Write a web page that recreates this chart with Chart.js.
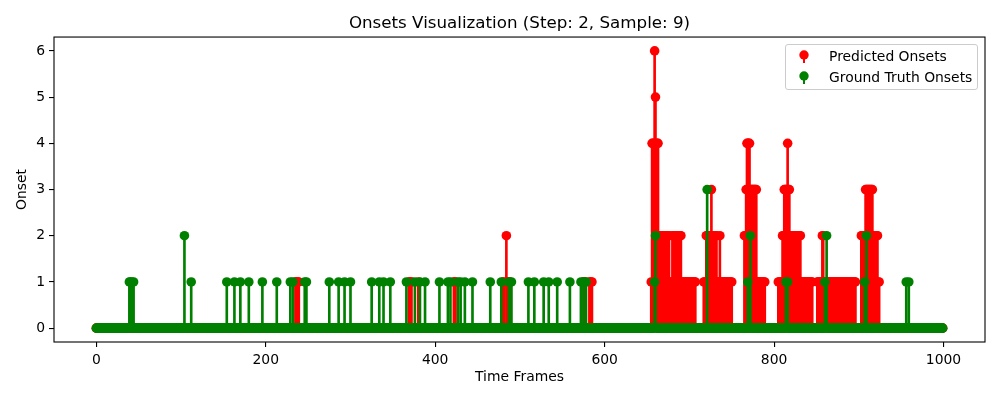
<!DOCTYPE html>
<html>
<head>
<meta charset="utf-8">
<script src="https://cdn.jsdelivr.net/npm/chart.js@4.4.1/dist/chart.umd.min.js"></script>
<style>
html,body{margin:0;padding:0;background:#fff;}
#wrap{position:relative;width:1000px;height:400px;background:#fff;}
#chart{position:absolute;left:0;top:0;}
#legend{position:absolute;left:785px;top:44px;width:191px;height:44px;border:1px solid #cccccc;border-radius:3px;background:rgba(255,255,255,0.8);font-family:'DejaVu Sans',sans-serif;font-size:13.9px;color:#000;}
#legend .row{position:absolute;left:0;width:191px;height:20px;line-height:20px;white-space:nowrap;}
#legend svg{position:absolute;left:12px;top:0;}
#legend span{position:absolute;left:43px;top:0;}
</style>
</head>
<body>
<div id="wrap">
<canvas id="chart" width="1000" height="400"></canvas>
<div id="legend">
  <div class="row" style="top:0.7px"><svg width="12" height="20"><line x1="6" y1="9" x2="6" y2="17" stroke="#ff0000" stroke-width="2"/><circle cx="6" cy="9" r="4.7" fill="#ff0000"/></svg><span>Predicted Onsets</span></div>
  <div class="row" style="top:21.7px"><svg width="12" height="20"><line x1="6" y1="9" x2="6" y2="17" stroke="#008000" stroke-width="2"/><circle cx="6" cy="9" r="4.7" fill="#008000"/></svg><span>Ground Truth Onsets</span></div>
</div>
</div>
<script>
// ---- data ----
const chartTitle = 'Onsets Visualization (Step: 2, Sample: 9)';
const xTickValues = [0, 200, 400, 600, 800, 1000];
const yTickValues = [0, 1, 2, 3, 4, 5, 6];
const frameCount = 1000;

// predicted onsets, sparse part (frames before 650)
const predSparseFrames = [235,236,237,238,239,369,370,371,372,380,422,423,424,480,481,484,485,486,487,488,575,576,577,582,583,584,585];
const predSparseValues = [1,1,1,1,1,1,1,1,1,1,1,1,1,1,1,2,1,1,1,1,1,1,1,1,1,1,1];

// predicted onsets, dense part: one value per frame starting at frame 650
const predDenseStart = 650;
const predDenseValues = [
  0,0,0,0,0,1,4,4,4,6,   // 650
  5,4,4,4,2,2,2,2,2,2,   // 660
  2,2,2,2,2,2,2,1,1,1,   // 670
  2,2,2,2,2,2,2,2,2,2,   // 680
  2,1,1,1,1,1,1,1,1,1,   // 690
  1,1,1,1,1,1,1,1,0,0,   // 700
  0,0,0,0,0,0,0,1,1,1,   // 710
  2,2,2,2,2,2,3,2,2,2,   // 720
  2,2,2,1,1,1,2,1,1,1,   // 730
  1,1,1,1,1,1,1,1,1,1,   // 740
  1,0,0,0,0,0,0,0,0,0,   // 750
  0,0,0,0,0,2,2,3,4,4,   // 760
  4,4,3,3,3,3,3,3,3,3,   // 770
  1,1,1,1,1,1,1,1,1,1,   // 780
  0,0,0,0,0,0,0,0,0,0,   // 790
  0,0,0,0,0,1,1,1,1,1,   // 800
  2,2,3,3,3,3,4,3,3,2,   // 810
  2,2,2,2,2,2,2,2,2,2,   // 820
  2,2,1,1,1,1,1,1,1,1,   // 830
  1,1,1,1,1,1,0,0,0,0,   // 840
  0,1,1,1,1,1,1,2,2,1,   // 850
  1,1,1,1,1,1,1,1,1,1,   // 860
  1,1,1,1,1,1,1,1,1,1,   // 870
  1,1,1,1,1,1,1,1,1,1,   // 880
  1,1,1,1,1,1,1,0,0,0,   // 890
  0,0,0,2,2,2,2,2,3,3,   // 900
  3,3,3,3,3,3,3,2,2,2,   // 910
  2,2,2,1,1,0,0,0,0,0    // 920
];

// ground truth onsets (all other frames are 0)
const gtFrames = [39,40,42,44,104,112,154,163,170,180,196,213,229,232,246,248,275,286,293,300,325,334,339,347,366,376,382,388,405,415,418,427,430,435,444,465,478,487,490,510,517,528,534,544,559,572,575,578,659,660,721,769,772,814,816,860,862,907,909,956,959];
const gtValues = [1,1,1,1,2,1,1,1,1,1,1,1,1,1,1,1,1,1,1,1,1,1,1,1,1,1,1,1,1,1,1,1,1,1,1,1,1,1,1,1,1,1,1,1,1,1,1,1,1,2,3,1,2,1,1,1,2,1,2,1,1];

// ---- build series ----
const frames = Array.from({length: frameCount}, (_, i) => i);
const pred = frames.map(() => 0);
predSparseFrames.forEach((f, k) => { pred[f] = predSparseValues[k]; });
predDenseValues.forEach((v, k) => { pred[predDenseStart + k] = v; });
const gt = frames.map(() => 0);
gtFrames.forEach((f, k) => { gt[f] = gtValues[k]; });
const pts = arr => frames.map(i => ({x: i, y: arr[i]}));

const FONT = "'DejaVu Sans', sans-serif";

const frameBox = {
  id: 'frameBox',
  afterDraw(chart) {
    const {ctx, chartArea: a} = chart;
    ctx.save();
    ctx.strokeStyle = '#000';
    ctx.lineWidth = 1.1;
    ctx.strokeRect(a.left, a.top, a.right - a.left, a.bottom - a.top);
    ctx.restore();
  }
};

new Chart(document.getElementById('chart'), {
  type: 'bar',
  data: {
    datasets: [
      {type: 'bar', label: 'Predicted Onsets', data: pts(pred), backgroundColor: '#ff0000', borderWidth: 0, barThickness: 2, grouped: false, order: 4},
      {type: 'scatter', label: 'Predicted Onsets', data: pts(pred), pointRadius: 4.8, pointBackgroundColor: '#ff0000', pointBorderWidth: 0, pointHoverRadius: 4.8, order: 3},
      {type: 'bar', label: 'Ground Truth Onsets', data: pts(gt), backgroundColor: '#008000', borderWidth: 0, barThickness: 2, grouped: false, order: 2},
      {type: 'scatter', label: 'Ground Truth Onsets', data: pts(gt), pointRadius: 4.8, pointBackgroundColor: '#008000', pointBorderWidth: 0, pointHoverRadius: 4.8, order: 1}
    ]
  },
  options: {
    responsive: false,
    animation: false,
    events: [],
    layout: {padding: {left: 0, right: 15, top: 0, bottom: 0}},
    plugins: {
      legend: {display: false},
      tooltip: {enabled: false},
      title: {display: true, text: chartTitle, color: '#000', fullSize: false,
              font: {family: FONT, size: 16.7, weight: 'normal'}, padding: {top: 14, bottom: 3}}
    },
    scales: {
      x: {
        type: 'linear', min: -49.95, max: 1048.95, offset: false,
        afterBuildTicks: s => { s.ticks = xTickValues.map(v => ({value: v})); },
        afterFit: s => { s.height = 58; },
        grid: {display: true, drawOnChartArea: false, drawTicks: true, tickLength: 5, color: '#000', lineWidth: 1.1, offset: false},
        border: {display: false},
        ticks: {color: '#000', font: {family: FONT, size: 13.9}, padding: 5, maxRotation: 0, autoSkip: false, callback: v => String(v)},
        title: {display: true, text: 'Time Frames', color: '#000', font: {family: FONT, size: 13.9}, padding: {top: 0, bottom: 14.6}}
      },
      y: {
        type: 'linear', min: -0.3, max: 6.3,
        afterBuildTicks: s => { s.ticks = yTickValues.map(v => ({value: v})); },
        afterFit: s => { s.width = 54; },
        grid: {display: true, drawOnChartArea: false, drawTicks: true, tickLength: 5, color: '#000', lineWidth: 1.1},
        border: {display: false},
        ticks: {color: '#000', font: {family: FONT, size: 13.9}, padding: 4, callback: v => String(v)},
        title: {display: true, text: 'Onset', color: '#000', font: {family: FONT, size: 13.9}, padding: {top: 13.6, bottom: 0}}
      }
    }
  },
  plugins: [frameBox]
});
</script>
</body>
</html>
